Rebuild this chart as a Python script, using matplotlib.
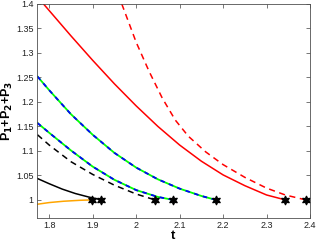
import numpy as np
import matplotlib
matplotlib.use("Agg")
import matplotlib.pyplot as plt
from matplotlib.ticker import FormatStrFormatter

matplotlib.rcParams.update({
    "font.family": "Liberation Sans",
    "font.size": 6.5,
})

# curves (t, P1+P2+P3)
red_t = [1.787, 1.85, 1.90, 1.95, 2.00, 2.05, 2.10, 2.15, 2.20, 2.25, 2.30, 2.343]
red_p = [1.400, 1.335, 1.285, 1.237, 1.192, 1.150, 1.112, 1.079, 1.051, 1.029, 1.010, 1.000]

red_dash_t = [1.967, 2.00, 2.03, 2.06, 2.09, 2.12, 2.16, 2.20, 2.25, 2.30, 2.343, 2.390]
red_dash_p = [1.400, 1.322, 1.262, 1.208, 1.163, 1.130, 1.098, 1.072, 1.046, 1.024, 1.010, 1.000]

green_hi_t = [1.773, 1.80, 1.85, 1.90, 1.95, 2.00, 2.05, 2.10, 2.15, 2.183]
green_hi_p = [1.252, 1.224, 1.175, 1.133, 1.096, 1.066, 1.042, 1.023, 1.008, 1.000]

green_lo_t = [1.773, 1.80, 1.85, 1.90, 1.95, 2.00, 2.05, 2.085]
green_lo_p = [1.157, 1.137, 1.101, 1.068, 1.041, 1.020, 1.006, 1.000]

black_dash_t = [1.773, 1.80, 1.85, 1.90, 1.95, 2.00, 2.043]
black_dash_p = [1.133, 1.112, 1.078, 1.052, 1.030, 1.012, 1.000]

black_t = [1.772, 1.80, 1.83, 1.86, 1.89, 1.920]
black_p = [1.044, 1.033, 1.022, 1.013, 1.006, 1.000]

orange_t = [1.772, 1.800, 1.833, 1.870, 1.899]
orange_p = [0.991, 0.9945, 0.9972, 0.9991, 1.000]

end_t = [1.899, 1.920, 2.043, 2.085, 2.183, 2.343, 2.390]
end_p = [1.0] * len(end_t)

fig = plt.figure(figsize=(3.18, 2.42), dpi=100)
ax = fig.add_axes([0.1164, 0.0992, 0.8586, 0.8843])

ax.plot(red_t, red_p, color="red", lw=1.1)
ax.plot(red_dash_t, red_dash_p, color="red", lw=1.1, ls=(0, (4, 3)))
for t, p in [(green_hi_t, green_hi_p), (green_lo_t, green_lo_p)]:
    ax.plot(t, p, color="#00ff00", lw=1.3)
    ax.plot(t, p, color="blue", lw=1.3, ls=(0, (2.5, 2.5)))
ax.plot(black_dash_t, black_dash_p, color="black", lw=1.1, ls=(0, (4, 3)))
ax.plot(black_t, black_p, color="black", lw=1.1)
ax.plot(orange_t, orange_p, color="#ffa500", lw=1.1)
ax.plot(end_t, end_p, ls="none", marker=(6, 1, 0), color="black", ms=6.5, mew=0.8)

ax.set_xlim(1.772, 2.4)
ax.set_ylim(0.963, 1.4)
ax.set_xticks([1.8, 1.9, 2.0, 2.1, 2.2, 2.3, 2.4])
ax.set_yticks([1.0, 1.05, 1.1, 1.15, 1.2, 1.25, 1.3, 1.35, 1.4])
ax.xaxis.set_major_formatter(FormatStrFormatter("%g"))
ax.yaxis.set_major_formatter(FormatStrFormatter("%g"))
ax.tick_params(direction="in", length=3, width=0.5, top=True, right=True,
               colors="#404040", labelcolor="#222222", pad=2.5)
for s in ax.spines.values():
    s.set_color("#505050")
    s.set_linewidth(0.6)

ax.set_xlabel("t", fontsize=9.5, fontweight="bold")
ax.xaxis.set_label_coords(0.5, -0.055)
ax.set_ylabel("P$_\\mathbf{1}$+P$_\\mathbf{2}$+P$_\\mathbf{3}$", fontsize=9,
              fontweight="bold")
ax.yaxis.set_label_coords(-0.08, 0.5)

fig.savefig("out.png", dpi=100)
